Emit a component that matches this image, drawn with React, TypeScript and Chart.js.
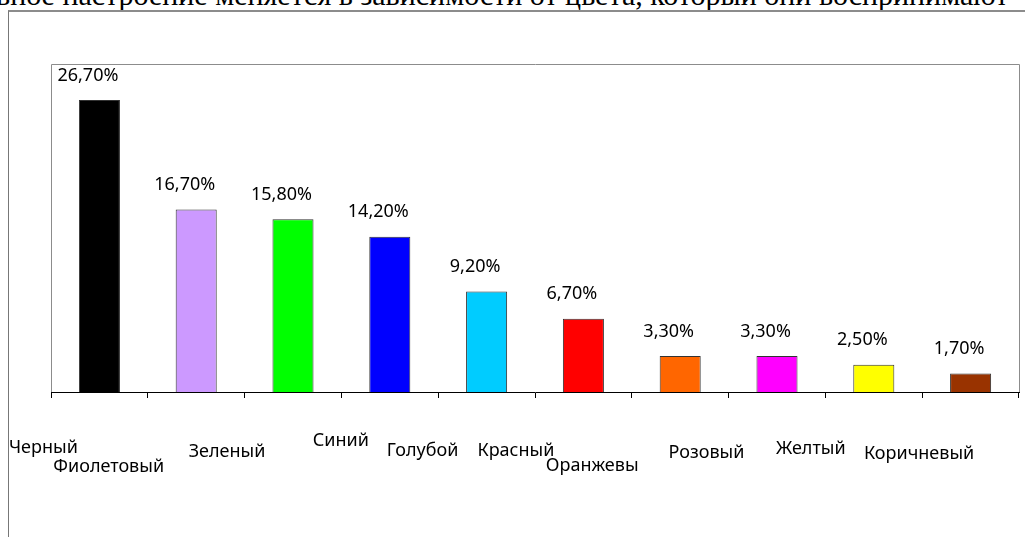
import React, { useEffect, useRef } from "react";
import { Chart, registerables } from "chart.js";

Chart.register(...registerables);

const categories = [
  "Черный",
  "Фиолетовый",
  "Зеленый",
  "Синий",
  "Голубой",
  "Красный",
  "Оранжевы",
  "Розовый",
  "Желтый",
  "Коричневый",
];
const values = [26.7, 16.7, 15.8, 14.2, 9.2, 6.7, 3.3, 3.3, 2.5, 1.7];
const barColors = [
  "#000000",
  "#CC99FF",
  "#00FF00",
  "#0000FF",
  "#00CCFF",
  "#FF0000",
  "#FF6600",
  "#FF00FF",
  "#FFFF00",
  "#993300",
];
// label offsets (dx from category centre, dy below axis line) as in the original layout
const labelShiftX = [-56, -87.5, -66, -49, -64, -67.5, -88, -70.5, -63, -51.5];
const labelShiftY = [56, 75, 60, 49, 59, 59, 74, 61, 57, 62];
const titleText =
  "вное настроение меняется в зависимости от цвета, который они воспринимают";

const W = 1025;
const H = 537;

const fmt = (v: number) => v.toFixed(2).replace(".", ",") + "%";

const customDraw = {
  id: "customDraw",
  beforeDraw(chart: any) {
    const { ctx, chartArea: a } = chart;
    ctx.save();
    ctx.strokeStyle = "#8c8c8c";
    ctx.lineWidth = 1;
    ctx.beginPath();
    ctx.moveTo(Math.round(a.left) + 0.5, Math.round(a.bottom));
    ctx.lineTo(Math.round(a.left) + 0.5, Math.round(a.top) + 0.5);
    ctx.lineTo(Math.round(a.right) + 0.5, Math.round(a.top) + 0.5);
    ctx.lineTo(Math.round(a.right) + 0.5, Math.round(a.bottom));
    ctx.stroke();
    ctx.restore();
  },
  afterDatasetsDraw(chart: any) {
    const { ctx } = chart;
    const meta = chart.getDatasetMeta(0);
    const xScale = chart.scales.x;
    const bottom = chart.chartArea.bottom;
    ctx.save();
    ctx.fillStyle = "#000";
    ctx.font = "18px 'Noto Sans'";
    ctx.textAlign = "center";
    ctx.textBaseline = "middle";
    meta.data.forEach((bar: any, i: number) => {
      ctx.fillText(fmt(values[i]), bar.x - 11.5, bar.y - 24.5);
    });
    categories.forEach((c, i) => {
      const x = xScale.getPixelForValue(i);
      ctx.fillText(c, x + labelShiftX[i], bottom + labelShiftY[i]);
    });
    ctx.restore();
  },
};

export default function App() {
  const ref = useRef<HTMLCanvasElement>(null);
  useEffect(() => {
    if (!ref.current) return;
    const chart = new Chart(ref.current, {
      type: "bar",
      data: {
        labels: categories,
        datasets: [
          {
            data: values,
            backgroundColor: barColors,
            borderColor: "#333333",
            borderWidth: 1,
            barPercentage: 0.424,
            categoryPercentage: 1,
          },
        ],
      },
      options: {
        animation: false,
        responsive: false,
        layout: { padding: { left: 51, top: 64, right: 6, bottom: 0 } },
        plugins: {
          legend: { display: false },
          tooltip: { enabled: false },
          title: { display: false },
        },
        scales: {
          x: {
            offset: true,
            grid: {
              display: true,
              offset: true,
              drawOnChartArea: false,
              drawTicks: true,
              tickLength: 6,
              color: "#000",
              lineWidth: 1,
            },
            border: { display: true, color: "#000", width: 1 },
            ticks: { display: false },
            afterFit: (s: any) => {
              s.height = H - 392;
            },
          },
          y: {
            display: false,
            min: 0,
            max: 30,
          },
        },
      },
      plugins: [customDraw],
    });
    return () => chart.destroy();
  }, []);

  return (
    <div
      style={{
        position: "fixed",
        left: 0,
        top: 0,
        width: W,
        height: H,
        overflow: "hidden",
        background: "#fff",
      }}
    >
      <div
        style={{
          position: "absolute",
          left: -4,
          top: -20,
          whiteSpace: "nowrap",
          fontFamily: "'Liberation Serif', 'Times New Roman', serif",
          fontSize: 30,
          lineHeight: "30px",
          color: "#000",
        }}
      >
        {titleText}
      </div>
      <div
        style={{
          position: "absolute",
          left: 8,
          top: 10,
          width: W,
          height: H,
          borderLeft: "1px solid #777",
          borderTop: "2px solid #8c8c8c",
        }}
      />
      <canvas
        ref={ref}
        width={W}
        height={H}
        style={{ position: "absolute", left: 0, top: 0 }}
      />
    </div>
  );
}
